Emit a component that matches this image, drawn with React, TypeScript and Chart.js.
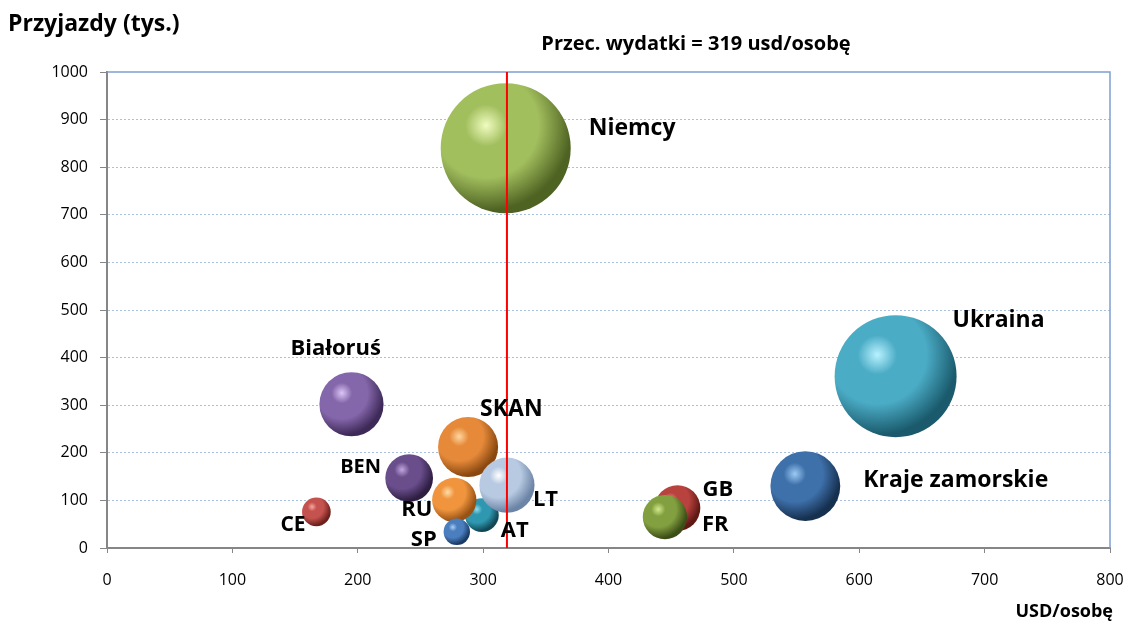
import React, { useEffect, useRef } from "react";
import { Chart, registerables } from "chart.js";

Chart.register(...registerables);

// ---- data ----
const countries = ["Niemcy", "Ukraina", "Kraje zamorskie", "Białoruś", "SKAN", "AT", "LT", "BEN", "RU", "SP", "CE", "GB", "FR"];
const spendingPerPerson = [318, 629, 557, 195, 288, 299, 319, 241, 277, 279, 167, 455, 445]; // USD/osobę
const arrivals = [840, 361, 130, 302, 212, 69, 132, 147, 101, 34, 76, 84, 65]; // tys.
const expenditure = [267, 235, 77, 65, 57, 18, 48, 36, 31, 11, 13, 33, 31]; // mln USD (bubble size)
const averageSpending = 319;
const xTicks = [0, 100, 200, 300, 400, 500, 600, 700, 800];
const yTicks = [0, 100, 200, 300, 400, 500, 600, 700, 800, 900, 1000];

// ---- styles ----
const FONT = "'Open Sans', Lato, sans-serif";
const MAX_RADIUS = 65;
const colors: [string, string, string][] = [
  ["#F0FCC0", "#A2BF5E", "#4E6222"],
  ["#B8F2FF", "#4BACC6", "#1A5A6C"],
  ["#9CCAF4", "#3E70AA", "#16304F"],
  ["#DCC6F6", "#8466AA", "#3E2A58"],
  ["#FFD6A0", "#E68A3A", "#8A4810"],
  ["#8EDEF0", "#2F98B0", "#104856"],
  ["#FFFFFF", "#B8CAE2", "#6C84A6"],
  ["#C2A6E0", "#6A4E8C", "#2E1E42"],
  ["#FFDCA8", "#F0953E", "#985214"],
  ["#A8D0F6", "#4A7EBE", "#1A3A66"],
  ["#F8A8A0", "#C4524E", "#6E201C"],
  ["#F09890", "#B8423E", "#601814"],
  ["#D2EA8C", "#82A040", "#3C4E16"],
];
// [dx, dy, font size] relative to the bubble centre
const labelOffsets: [number, number, number][] = [
  [83, -20, 23],
  [57, -56, 23],
  [58, -6, 23],
  [-61, -56, 22],
  [12, -38, 23],
  [19, 16, 22],
  [26, 15, 22],
  [-69, -11, 20],
  [-53, 10, 22],
  [-46, 8, 22],
  [-36, 13, 21],
  [25, -18, 22],
  [37, 8, 22],
];

const maxExp = Math.max(...expenditure);

export default function App() {
  const ref = useRef<HTMLCanvasElement>(null);
  useEffect(() => {
    document.body.style.margin = "0";
    const canvas = ref.current!;
    const data = countries.map((c, i) => ({
      x: spendingPerPerson[i],
      y: arrivals[i],
      r: MAX_RADIUS * Math.sqrt(expenditure[i] / maxExp),
    }));

    const overlay = {
      id: "overlay",
      beforeDatasetsDraw(chart: any) {
        const { ctx, chartArea } = chart;
        ctx.save();
        ctx.strokeStyle = "#7F9FD0";
        ctx.lineWidth = 1.5;
        ctx.beginPath();
        ctx.moveTo(chartArea.left, chartArea.top);
        ctx.lineTo(chartArea.right, chartArea.top);
        ctx.lineTo(chartArea.right, chartArea.bottom);
        ctx.stroke();
        ctx.restore();
      },
      afterDatasetsDraw(chart: any) {
        const { ctx, chartArea, scales } = chart;
        ctx.save();
        const ax = scales.x.getPixelForValue(averageSpending);
        ctx.strokeStyle = "#FF0000";
        ctx.lineWidth = 2;
        ctx.beginPath();
        ctx.moveTo(ax, chartArea.top);
        ctx.lineTo(ax, chartArea.bottom);
        ctx.stroke();

        ctx.fillStyle = "#000";
        ctx.textBaseline = "middle";
        ctx.textAlign = "left";
        countries.forEach((c, i) => {
          const px = scales.x.getPixelForValue(spendingPerPerson[i]);
          const py = scales.y.getPixelForValue(arrivals[i]);
          const [dx, dy, fs] = labelOffsets[i];
          ctx.font = `bold ${fs}px ${FONT}`;
          ctx.fillText(c, px + dx, py + dy);
        });

        ctx.font = `bold 20px ${FONT}`;
        ctx.textAlign = "center";
        ctx.fillText(`Przec. wydatki = ${averageSpending} usd/osobę`, 696, 44);

        ctx.font = `bold 23px ${FONT}`;
        ctx.textAlign = "left";
        ctx.fillText("Przyjazdy (tys.)", 8, 24);

        ctx.font = `bold 18px ${FONT}`;
        ctx.textAlign = "right";
        ctx.fillText("USD/osobę", 1113, 612);
        ctx.restore();
      },
    };

    const chart = new Chart(canvas, {
      type: "bubble",
      data: {
        datasets: [
          {
            data,
            borderWidth: 0,
            hoverBorderWidth: 0,
            hoverRadius: 0,
            backgroundColor: (ctx: any) => {
              const chart = ctx.chart;
              const i = ctx.dataIndex;
              if (i === undefined || !chart.chartArea || !chart.scales.x) return colors[0][1];
              const [hi, base, dark] = colors[i];
              const raw = ctx.raw;
              const x = chart.scales.x.getPixelForValue(raw.x);
              const y = chart.scales.y.getPixelForValue(raw.y);
              const r = raw.r;
              const fx = x - 0.3 * r;
              const fy = y - 0.35 * r;
              const g = chart.ctx.createRadialGradient(fx, fy, 0, fx, fy, 1.46 * r);
              g.addColorStop(0, hi);
              g.addColorStop(0.22, base);
              g.addColorStop(0.55, base);
              g.addColorStop(0.9, dark);
              g.addColorStop(1, dark);
              return g;
            },
          },
        ],
      },
      options: {
        responsive: false,
        animation: false,
        events: [],
        layout: { autoPadding: false, padding: { top: 72, right: 17, left: 0, bottom: 0 } },
        plugins: { legend: { display: false }, tooltip: { enabled: false } },
        scales: {
          x: {
            type: "linear",
            min: xTicks[0],
            max: xTicks[xTicks.length - 1],
            afterBuildTicks: (s: any) => {
              s.ticks = xTicks.map((v) => ({ value: v }));
            },
            afterFit: (s: any) => {
              s.height = 77;
              s.paddingLeft = 0;
              s.paddingRight = 0;
            },
            ticks: { padding: 18, color: "#000", font: { family: FONT, size: 16 }, callback: (v: any) => String(v) },
            grid: { drawOnChartArea: false, tickLength: 5, tickColor: "#868686", tickWidth: 1 },
            border: { color: "#868686", width: 2 },
          },
          y: {
            type: "linear",
            min: yTicks[0],
            max: yTicks[yTicks.length - 1],
            afterBuildTicks: (s: any) => {
              s.ticks = yTicks.map((v) => ({ value: v }));
            },
            afterFit: (s: any) => {
              s.width = 107;
              s.paddingTop = 0;
              s.paddingBottom = 0;
            },
            ticks: { padding: 12, color: "#000", font: { family: FONT, size: 16 }, callback: (v: any) => String(v) },
            grid: {
              color: (c: any) =>
                c.tick && (c.tick.value === 0 || c.tick.value === 1000) ? "rgba(0,0,0,0)" : "#A9C0DF",
              lineWidth: 1,
              tickLength: 7,
              tickColor: "#868686",
              tickWidth: 1,
              tickBorderDash: [],
            },
            border: { color: "#868686", width: 2, dash: [2, 2] },
          },
        },
      },
      plugins: [overlay],
    });
    return () => chart.destroy();
  }, []);
  return (
    <div style={{ width: 1127, height: 625 }}>
      <canvas ref={ref} width={1127} height={625} style={{ display: "block" }} />
    </div>
  );
}
